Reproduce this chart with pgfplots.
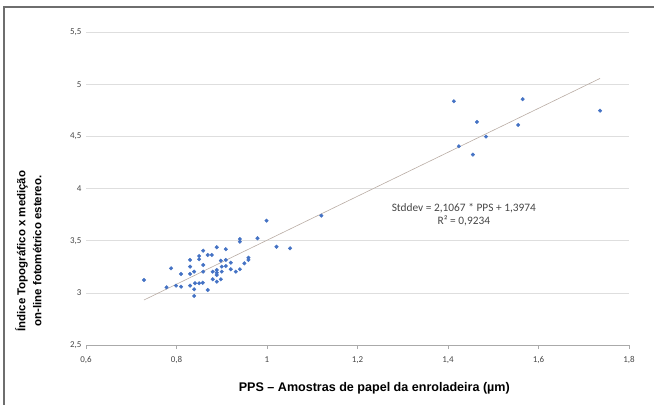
\documentclass[border=0pt]{standalone}
\usepackage{pgfplots}
\pgfplotsset{compat=1.18}
\usepackage{pgfplotstable}
\usepackage{fontspec}
\setmainfont{Carlito}
\newfontfamily\labelfont{Liberation Sans}

\definecolor{ptblue}{RGB}{68,114,196}
\definecolor{trend}{RGB}{185,172,164}
\definecolor{gridgray}{RGB}{222,222,222}
\definecolor{axisgray}{RGB}{170,170,170}
\definecolor{txtgray}{RGB}{70,70,70}
\definecolor{framegray}{RGB}{110,110,110}

% PPS x indice topografico
\pgfplotstableread{
x y
0.728 3.123
0.788 3.235
0.778 3.053
0.799 3.069
0.810 3.059
0.810 3.181
0.830 3.315
0.830 3.251
0.830 3.181
0.830 3.069
0.839 3.034
0.839 2.970
0.841 3.092
0.850 3.353
0.850 3.322
0.850 3.092
0.839 3.203
0.859 3.404
0.859 3.267
0.859 3.203
0.858 3.097
0.869 3.363
0.878 3.363
0.869 3.027
0.880 3.203
0.880 3.130
0.889 3.437
0.889 3.219
0.889 3.193
0.889 3.171
0.889 3.107
0.898 3.308
0.900 3.251
0.900 3.203
0.898 3.130
0.909 3.418
0.909 3.315
0.909 3.257
0.920 3.289
0.920 3.226
0.931 3.203
0.940 3.516
0.940 3.490
0.940 3.226
0.950 3.283
0.959 3.337
0.959 3.315
0.979 3.523
1.021 3.442
1.051 3.427
0.999 3.692
1.120 3.740
1.413 4.836
1.565 4.856
1.464 4.638
1.555 4.609
1.484 4.497
1.424 4.405
1.455 4.325
1.736 4.746
}\pps

\begin{document}
\begin{tikzpicture}
\path[use as bounding box] (0,0) rectangle (654bp,405bp);
\draw[framegray, line width=1.3bp] (4bp,0) -- (4bp,398bp) -- (654bp,398bp);
\begin{axis}[
  at={(86bp,60bp)}, anchor=south west,
  scale only axis, width=543bp, height=313bp,
  xmin=0.6, xmax=1.8, ymin=2.5, ymax=5.5,
  xtick={0.6,0.8,...,1.8}, ytick={2.5,3,...,5.5},
  axis x line*=bottom, axis y line*=left,
  x axis line style={-, draw=axisgray},
  y axis line style={draw=none},
  ytick style={draw=none},
  xtick style={draw=axisgray},
  tick align=outside, major tick length=4bp,
  ymajorgrids, grid style={gridgray, line width=0.6bp},
  /pgf/number format/use comma,
  /pgf/number format/assume math mode=true,
  ticklabel style={font=\fontsize{9}{10}\selectfont, text=txtgray},
  xticklabel style={yshift=-4bp},
  yticklabel style={xshift=3bp},
  xlabel={PPS – Amostras de papel da enroladeira (µm)},
  xlabel style={font=\labelfont\bfseries\fontsize{12.6}{14}\selectfont, at={(axis description cs:0.531,-0.137)}, anchor=center},
  ylabel={Índice Topográfico x medição\\on-line fotométrico estereo.},
  ylabel style={font=\labelfont\bfseries\fontsize{11.5}{16}\selectfont, align=center, at={(axis description cs:-0.106,0.3)}, anchor=center},
  clip=false,
]
\addplot[only marks, mark=*, mark size=1.8bp, ptblue] table[x=x, y=y] {\pps};
\addplot[trend, line width=0.6bp] coordinates {(0.728,2.931) (1.736,5.055)};
\node[align=center, text=txtgray, font=\fontsize{11.4}{13}\selectfont] at (axis cs:1.435,3.75)
  {Stddev = 2,1067 * PPS + 1,3974\\R² = 0,9234};
\end{axis}
\end{tikzpicture}
\end{document}
